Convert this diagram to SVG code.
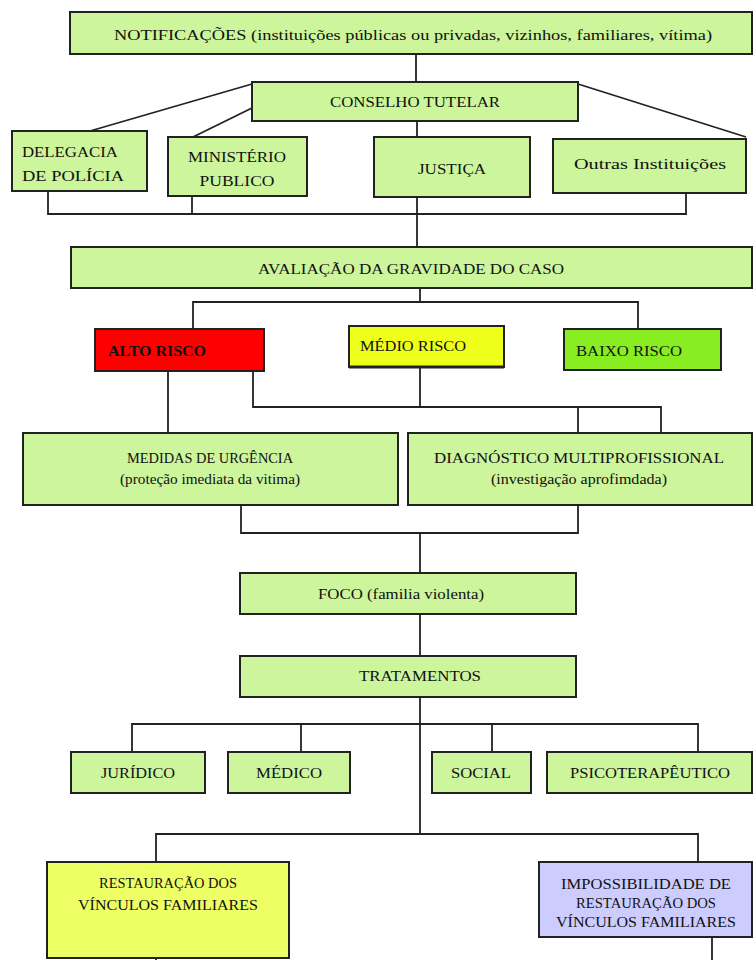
<svg xmlns="http://www.w3.org/2000/svg" width="755" height="960" viewBox="0 0 755 960">
<style>
.b{fill:#ccf59c;stroke:#222;stroke-width:2}
.t{font-family:'Liberation Serif','Times New Roman',Tinos,'Noto Serif','DejaVu Serif',FreeSerif,'Nimbus Roman',Times,serif;font-size:15px;fill:#111;text-anchor:middle}
.l{text-anchor:start}
.c{fill:none;stroke:#222;stroke-width:1.8}
</style>
<rect width="755" height="960" fill="#fff"/>
<g id="connectors" class="c">
<path d="M416,54V82"/>
<path d="M252,84L90,131"/>
<path d="M252,108L193,137"/>
<path d="M578,84L746,137"/>
<path d="M417,121V137"/>
<path d="M48,191V214H686V192"/>
<path d="M192,196V214"/>
<path d="M417,197V247"/>
<path d="M420,288V302"/>
<path d="M193,329V302H638V329"/>
<path d="M168,371V433"/>
<path d="M253,371V407H661V433"/>
<path d="M420,367V407"/>
<path d="M578,407V433"/>
<path d="M241,505V533H578V505"/>
<path d="M420,533V573"/>
<path d="M420,614V656"/>
<path d="M420,697V834"/>
<path d="M132,752V724H698V752"/>
<path d="M301,724V752"/>
<path d="M492,724V752"/>
<path d="M156,862V834H698V862"/>
<path d="M156,958V960"/>
<path d="M712,937V960"/>
</g>
<g id="notificacoes"><rect class="b" x="70" y="12" width="682" height="42" stroke-width="2.5"/><text class="t" x="413" y="40" font-size="17" textLength="598" lengthAdjust="spacingAndGlyphs">NOTIFICAÇÕES (instituições públicas ou privadas, vizinhos, familiares, vítima)</text></g>
<g id="conselho"><rect class="b" x="252" y="82" width="326" height="39"/><text class="t" x="415" y="107" font-size="16" textLength="170" lengthAdjust="spacingAndGlyphs">CONSELHO TUTELAR</text></g>
<g id="delegacia"><rect class="b" x="12" y="131" width="135" height="60"/><text class="t l" x="22" y="157" font-size="16" textLength="96" lengthAdjust="spacingAndGlyphs">DELEGACIA</text><text class="t l" x="22" y="181" font-size="16" textLength="102" lengthAdjust="spacingAndGlyphs">DE POLÍCIA</text></g>
<g id="ministerio"><rect class="b" x="168" y="137" width="139" height="59"/><text class="t" x="237" y="162" font-size="16" textLength="98" lengthAdjust="spacingAndGlyphs">MINISTÉRIO</text><text class="t" x="237" y="186" font-size="16" textLength="75" lengthAdjust="spacingAndGlyphs">PUBLICO</text></g>
<g id="justica"><rect class="b" x="374" y="137" width="156" height="60"/><text class="t" x="452" y="174" font-size="16" textLength="68" lengthAdjust="spacingAndGlyphs">JUSTIÇA</text></g>
<g id="outras"><rect class="b" x="553" y="139" width="193" height="54"/><text class="t" x="650" y="169" font-size="18" textLength="152" lengthAdjust="spacingAndGlyphs">Outras Instituições</text></g>
<g id="avaliacao"><rect class="b" x="71" y="247" width="681" height="41"/><text class="t" x="411" y="274" font-size="16" textLength="306" lengthAdjust="spacingAndGlyphs">AVALIAÇÃO DA GRAVIDADE DO CASO</text></g>
<g id="alto"><rect x="95" y="329" width="169" height="42" fill="#ff0000" stroke="#222" stroke-width="2"/><text class="t l" x="108" y="356" fill="#500" font-weight="bold" font-size="15" textLength="98" lengthAdjust="spacingAndGlyphs">ALTO RISCO</text></g>
<g id="medio"><rect x="349" y="326" width="155" height="41" fill="#eeff1a" stroke="#222" stroke-width="2"/><path d="M349,367H504" stroke="#222" stroke-width="3"/><text class="t l" x="360" y="351" font-size="16" textLength="106" lengthAdjust="spacingAndGlyphs">MÉDIO RISCO</text></g>
<g id="baixo"><rect x="564" y="329" width="157" height="41" fill="#88ee22" stroke="#222" stroke-width="2"/><text class="t l" x="576" y="356" font-size="16" textLength="106" lengthAdjust="spacingAndGlyphs">BAIXO RISCO</text></g>
<g id="medidas"><rect class="b" x="23" y="433" width="375" height="72"/><text class="t" x="210" y="463" font-size="16" textLength="166" lengthAdjust="spacingAndGlyphs">MEDIDAS DE URGÊNCIA</text><text class="t" x="210" y="484" font-size="15" textLength="180" lengthAdjust="spacingAndGlyphs">(proteção imediata da vitima)</text></g>
<g id="diagnostico"><rect class="b" x="408" y="433" width="344" height="72"/><text class="t" x="579" y="463" font-size="16" textLength="290" lengthAdjust="spacingAndGlyphs">DIAGNÓSTICO MULTIPROFISSIONAL</text><text class="t" x="579" y="484" font-size="15" textLength="176" lengthAdjust="spacingAndGlyphs">(investigação aprofimdada)</text></g>
<g id="foco"><rect class="b" x="240" y="573" width="336" height="41"/><text class="t" x="401" y="599" font-size="15" textLength="166" lengthAdjust="spacingAndGlyphs">FOCO (familia violenta)</text></g>
<g id="tratamentos"><rect class="b" x="240" y="656" width="336" height="41"/><text class="t" x="420" y="681" font-size="16" textLength="122" lengthAdjust="spacingAndGlyphs">TRATAMENTOS</text></g>
<g id="juridico"><rect class="b" x="71" y="752" width="134" height="41"/><text class="t" x="138" y="778" font-size="16" textLength="74" lengthAdjust="spacingAndGlyphs">JURÍDICO</text></g>
<g id="medico"><rect class="b" x="228" y="752" width="122" height="41"/><text class="t" x="289" y="778" font-size="16" textLength="66" lengthAdjust="spacingAndGlyphs">MÉDICO</text></g>
<g id="social"><rect class="b" x="432" y="752" width="99" height="41"/><text class="t" x="481" y="778" font-size="16" textLength="60" lengthAdjust="spacingAndGlyphs">SOCIAL</text></g>
<g id="psicoterapeutico"><rect class="b" x="547" y="752" width="205" height="41"/><text class="t" x="650" y="778" font-size="16" textLength="160" lengthAdjust="spacingAndGlyphs">PSICOTERAPÊUTICO</text></g>
<g id="restauracao"><rect x="47" y="862" width="242" height="96" fill="#eeff66" stroke="#222" stroke-width="2"/><text class="t" x="168" y="888" font-size="16" textLength="138" lengthAdjust="spacingAndGlyphs">RESTAURAÇÃO DOS</text><text class="t" x="168" y="910" font-size="16" textLength="180" lengthAdjust="spacingAndGlyphs">VÍNCULOS FAMILIARES</text></g>
<g id="impossibilidade"><rect x="539" y="862" width="213" height="75" fill="#ccccff" stroke="#222" stroke-width="2"/><text class="t" x="646" y="889" font-size="16" textLength="170" lengthAdjust="spacingAndGlyphs">IMPOSSIBILIDADE DE</text><text class="t" x="646" y="908" font-size="16" textLength="140" lengthAdjust="spacingAndGlyphs">RESTAURAÇÃO DOS</text><text class="t" x="646" y="927" font-size="16" textLength="180" lengthAdjust="spacingAndGlyphs">VÍNCULOS FAMILIARES</text></g>
</svg>
